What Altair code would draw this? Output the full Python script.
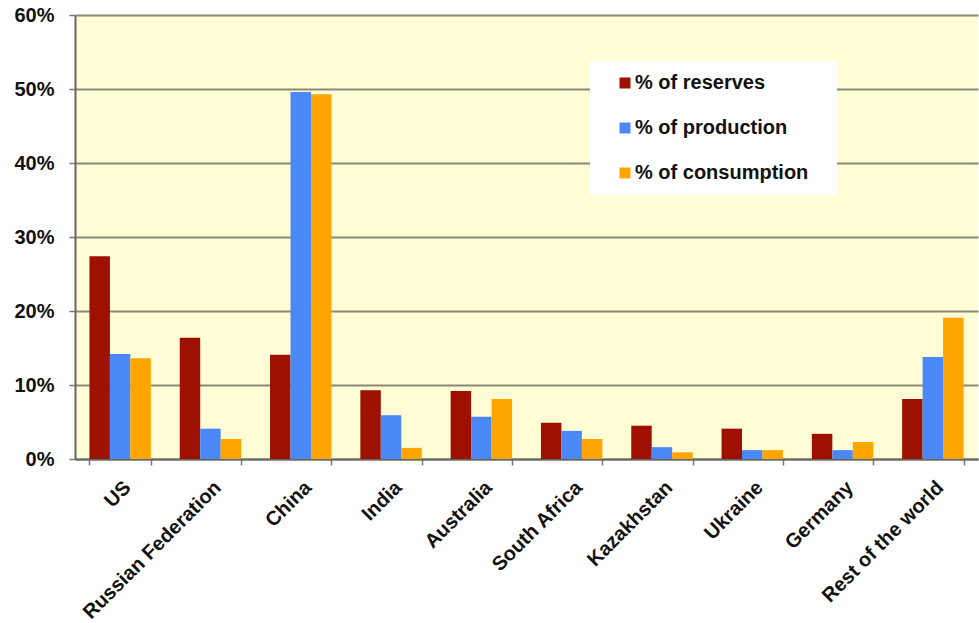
import altair as alt
import pandas as pd

categories = ["US", "Russian Federation", "China", "India", "Australia",
              "South Africa", "Kazakhstan", "Ukraine", "Germany", "Rest of the world"]
series = ["% of reserves", "% of production", "% of consumption"]
reserves = [0.274, 0.164, 0.141, 0.093, 0.092, 0.049, 0.045, 0.041, 0.034, 0.081]
production = [0.142, 0.041, 0.496, 0.059, 0.057, 0.038, 0.016, 0.012, 0.012, 0.138]
consumption = [0.136, 0.027, 0.493, 0.015, 0.081, 0.027, 0.009, 0.012, 0.023, 0.191]
colors = ["#9E1000", "#4A88F5", "#FFA500"]
y_ticks = [0, 0.1, 0.2, 0.3, 0.4, 0.5, 0.6]

rows = []
for name, vals in zip(series, [reserves, production, consumption]):
    for c, v in zip(categories, vals):
        rows.append({"country": c, "series": name, "value": v})
df = pd.DataFrame(rows)

font = "Liberation Sans"

chart = alt.Chart(df).mark_bar(cornerRadius=0).encode(
    x=alt.X("country:N", sort=categories, title=None,
            scale=alt.Scale(paddingInner=0.32, paddingOuter=0.16),
            axis=alt.Axis(labelAngle=-45, labelAlign="right", labelBaseline="top",
                          labelFontSize=20, labelFontWeight="bold", labelFont=font,
                          labelColor="#111111", labelPadding=12, labelLimit=400,
                          tickBand="extent", tickSize=6, tickColor="#777777", tickWidth=1.5,
                          domainColor="#666666", domainWidth=2, grid=False)),
    xOffset=alt.XOffset("series:N", sort=series,
                        scale=alt.Scale(paddingInner=0, paddingOuter=0)),
    y=alt.Y("value:Q", title=None,
            scale=alt.Scale(domain=[0, 0.6], nice=False),
            axis=alt.Axis(values=y_ticks, format=".0%", labelFontSize=20,
                          labelFontWeight="bold", labelFont=font, labelColor="#111111",
                          tickSize=6, tickColor="#777777", tickWidth=1.5, labelPadding=15,
                          domainColor="#666666", domainWidth=2,
                          grid=True, gridColor="#8A8A78", gridWidth=2)),
    color=alt.Color("series:N", sort=series,
                    scale=alt.Scale(domain=series, range=colors),
                    legend=alt.Legend(title=None, orient="none", legendX=515, legendY=46,
                                      fillColor="white", padding=12,
                                      symbolType="square", symbolSize=121,
                                      symbolStrokeWidth=0, symbolOffset=13,
                                      labelOffset=0, labelFontSize=20,
                                      labelFontWeight="bold", labelFont=font,
                                      labelColor="#111111", rowPadding=25,
                                      labelLimit=400,
                                      labelExpr="datum.label + '\u00a0\u00a0\u00a0\u200b'")),
).properties(
    width=903, height=444,
    autosize=alt.AutoSizeParams(type="none"),
    padding={"left": 75, "top": 15, "right": 1, "bottom": 164},
    background="white",
).configure_view(
    fill="#FFFDD6", stroke=None
)

chart.save("out.html", embed_options={"renderer": "svg", "actions": False})
